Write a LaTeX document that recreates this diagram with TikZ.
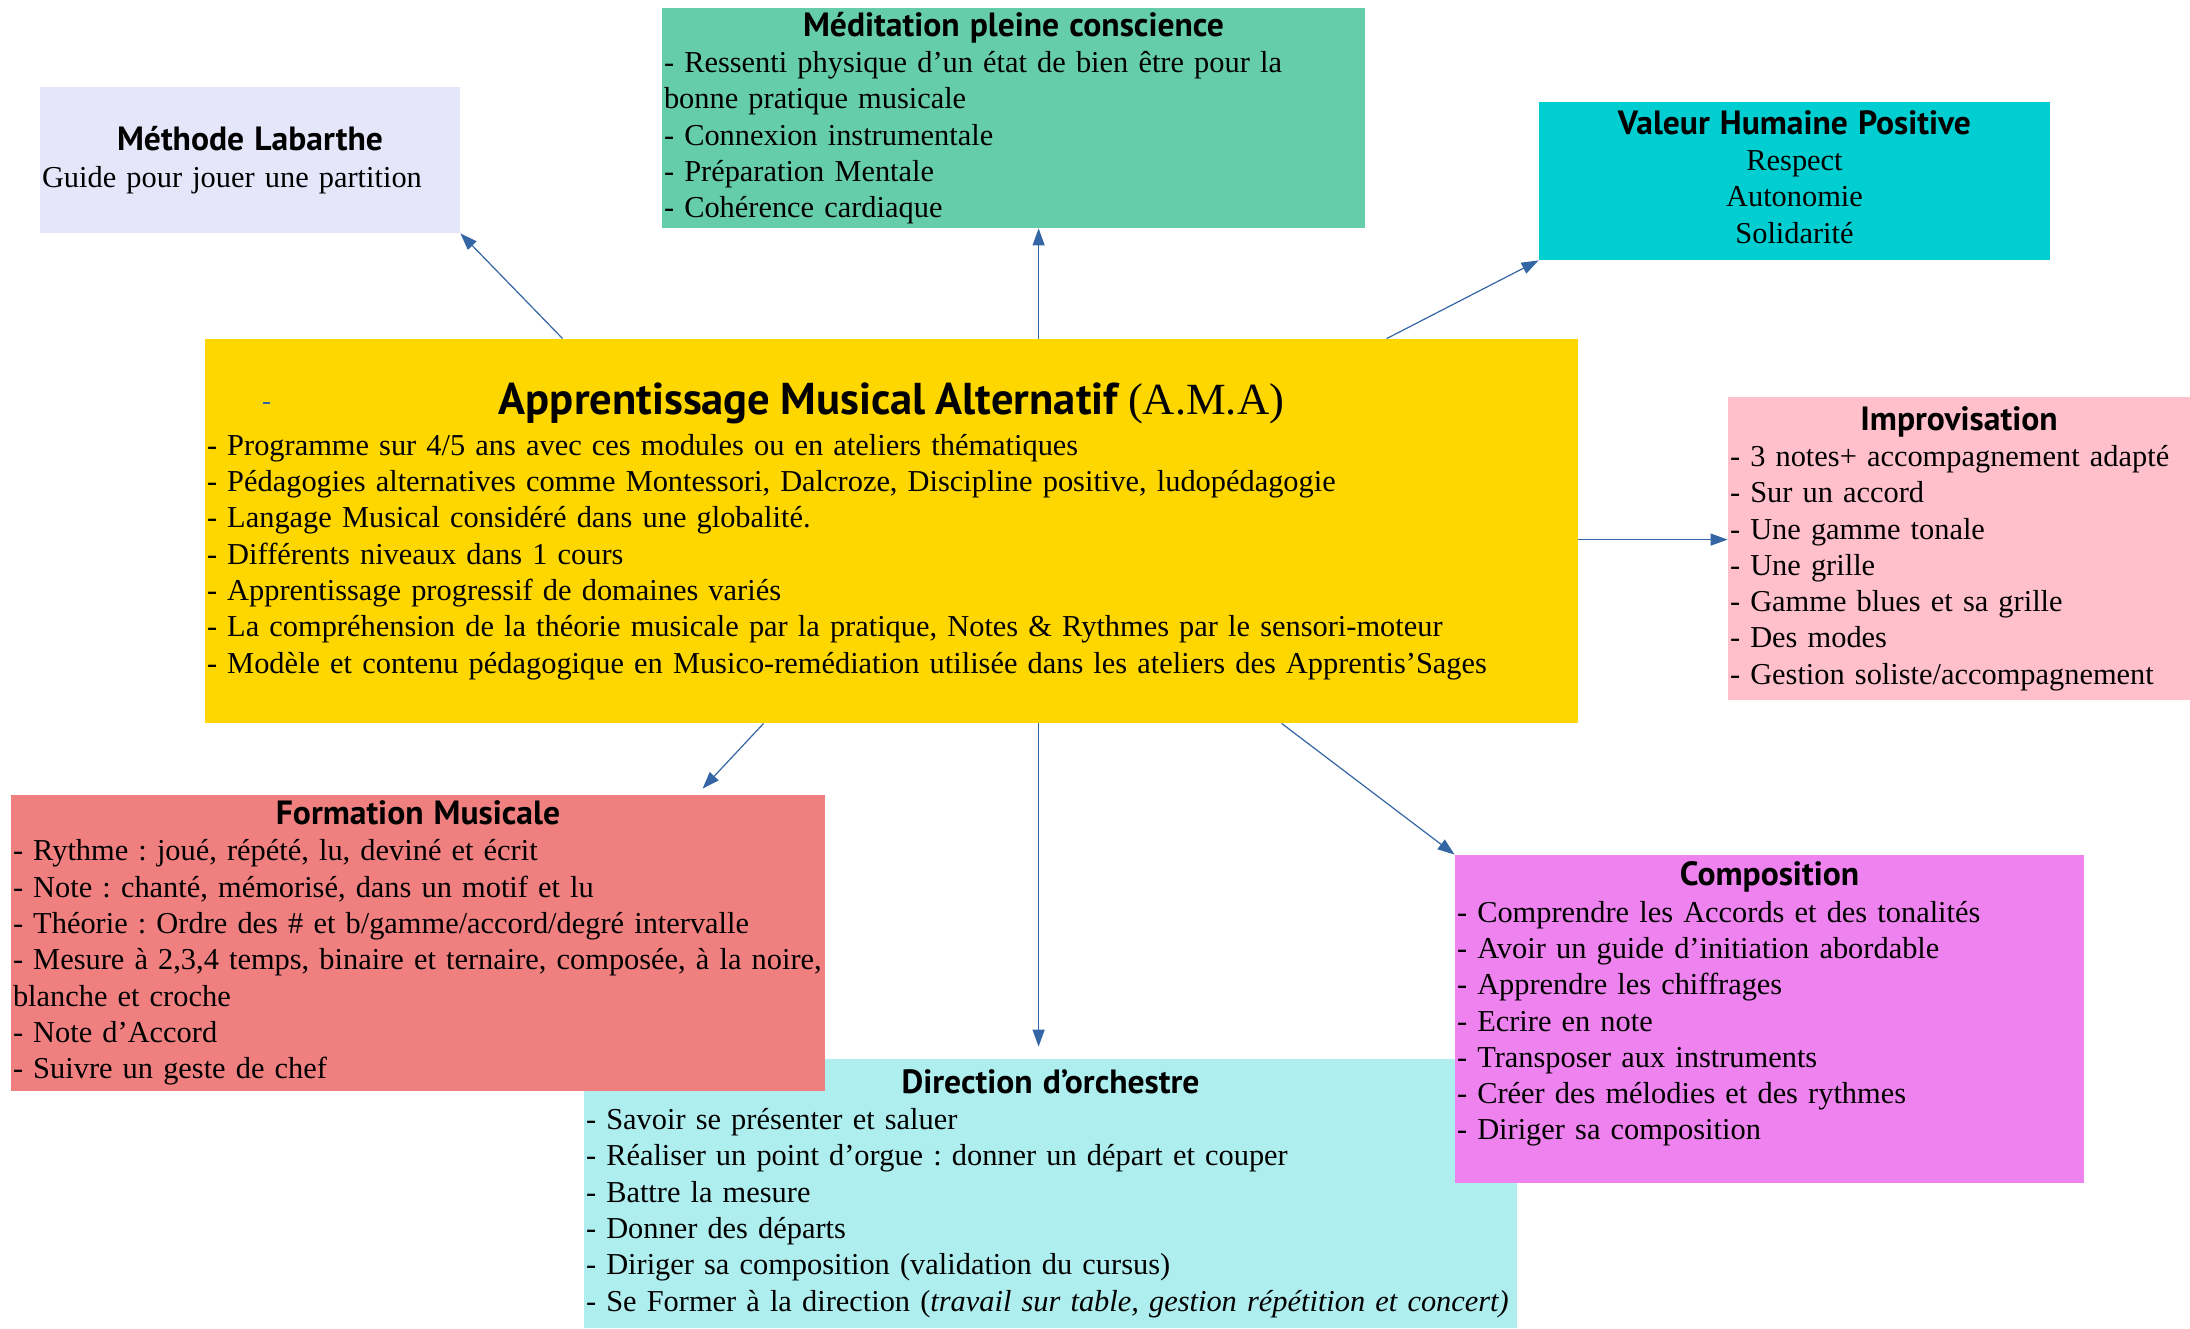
\documentclass[tikz,border=0pt]{standalone}
\usepackage{fontspec}
\setmainfont{Liberation Serif}
\newfontfamily\titlefam{PT Sans}
\usepackage{tikz}
\usetikzlibrary{arrows.meta, positioning, calc}

\definecolor{lavande}{HTML}{E6E6FA}
\definecolor{aquamarine}{HTML}{66CDAA}
\definecolor{turquoise}{HTML}{00CED1}
\definecolor{or}{HTML}{FFD700}
\definecolor{rose}{HTML}{FFC0CB}
\definecolor{corail}{HTML}{F08080}
\definecolor{violette}{HTML}{EE82EE}
\definecolor{turquoisepale}{HTML}{AFEEEE}
\definecolor{lienbleu}{HTML}{3465A4}

\newcommand{\boxtitle}[1]{{\centering\fontsize{16.8}{18.15}\selectfont\titlefam\bfseries #1\par}}

\begin{document}
\begin{tikzpicture}[x=0.5pt, y=-0.5pt,
                module/.style={inner xsep=1pt, inner ysep=0pt, align=left,
                               font=\fontsize{15.2}{18.15}\selectfont\frenchspacing},
                link/.style={-{Triangle[length=8.5pt, width=6pt]}, line width=0.6pt, draw=lienbleu}]

                \useasboundingbox (0,0) rectangle (2190,1328);

                % Central module
                \node[module, fill=or, text width=684.5pt, minimum height=192pt] (ama) at (891.5,531)
                    {{\centering\fontsize{22.3}{22.3}\selectfont{\titlefam\bfseries Apprentissage Musical Alternatif} (A.M.A)\par}
                     \vspace{2.5pt}
                     - Programme sur 4/5 ans avec ces modules ou en ateliers thématiques\\
                     - Pédagogies alternatives comme Montessori, Dalcroze, Discipline positive, ludopédagogie\\
                     - Langage Musical considéré dans une globalité.\\
                     - Différents niveaux dans 1 cours\\
                     - Apprentissage progressif de domaines variés\\
                     - La compréhension de la théorie musicale par la pratique, Notes \& Rythmes par le sensori-moteur\\
                     - Modèle et contenu pédagogique en Musico-remédiation utilisée dans les ateliers des Apprentis’Sages};
                \node[text=lienbleu] (tiret) at (266,403) {\rule{3.5pt}{0.7pt}};

                % Upper modules
                \node[module, fill=lavande, text width=208pt, minimum height=73pt] (methode) at (250,160)
                    {\boxtitle{Méthode Labarthe}Guide pour jouer une partition};
                \node[module, fill=aquamarine, text width=349.5pt, minimum height=110pt] (meditation) at (1013.5,118)
                    {\boxtitle{Méditation pleine conscience}
                     - Ressenti physique d’un état de bien être pour la\\
                     bonne pratique musicale\\
                     - Connexion instrumentale\\
                     - Préparation Mentale\\
                     - Cohérence cardiaque};
                \node[module, align=center, fill=turquoise, text width=253.5pt, minimum height=79pt] (valeur) at (1794.5,181)
                    {\boxtitle{Valeur Humaine Positive}Respect\\Autonomie\\Solidarité\vspace{4pt}};
                \node[module, fill=rose, text width=229pt, minimum height=151.5pt] (impro) at (1959,548.5)
                    {\boxtitle{Improvisation}
                     - 3 notes+ accompagnement adapté\\
                     - Sur un accord\\
                     - Une gamme tonale\\
                     - Une grille\\
                     - Gamme blues et sa grille\\
                     - Des modes\\
                     - Gestion soliste/accompagnement};

                % Lower modules
                \node[module, fill=turquoisepale, text width=464.5pt, minimum height=134.5pt] (direction) at (1050.5,1193.5)
                    {\boxtitle{Direction d’orchestre}
                     - Savoir se présenter et saluer\\
                     - Réaliser un point d’orgue : donner un départ et couper\\
                     - Battre la mesure\\
                     - Donner des départs\\
                     - Diriger sa composition (validation du cursus)\\
                     \mbox{- Se Former à la direction (\textit{travail sur table, gestion répétition et concert)}}};
                \node[module, fill=corail, text width=405pt, minimum height=148pt] (formation) at (418,943)
                    {\boxtitle{Formation Musicale}
                     - Rythme : joué, répété, lu, deviné et écrit\\
                     - Note : chanté, mémorisé, dans un motif et lu\\
                     - Théorie : Ordre des \# et b/gamme/accord/degré intervalle\\
                     \mbox{- Mesure à 2,3,4 temps, binaire et ternaire, composée, à la noire,}\\
                     blanche et croche\\
                     - Note d’Accord\\
                     - Suivre un geste de chef};
                \node[module, fill=violette, text width=312.5pt, minimum height=164pt] (composition) at (1769.5,1019)
                    {\boxtitle{Composition}
                     - Comprendre les Accords et des tonalités\\
                     - Avoir un guide d’initiation abordable\\
                     - Apprendre les chiffrages\\
                     - Ecrire en note\\
                     - Transposer aux instruments\\
                     - Créer des mélodies et des rythmes\\
                     - Diriger sa composition\\
                     \mbox{}};

                % Links
                \draw[link] ($(ama.north west)+(358,0)$) -- (methode.south east);
                \draw[link] ($(ama.north west)+(834,0)$) coordinate (haut) -- (haut |- meditation.south);
                \draw[link] ($(ama.north west)+(1182,0)$) -- (valeur.south west);
                \draw[link] ($(ama.north east)+(0,201)$) coordinate (droite) -- (droite -| impro.west);
                \draw[link] ($(ama.south west)+(559,0)$) -- ($(formation.north west)+(692,-6)$);
                \draw[link, shorten >=6pt] ($(ama.south west)+(834,0)$) coordinate (bas) -- (bas |- direction.north);
                \draw[link] ($(ama.south west)+(1077,0)$) -- (composition.north west);
            \end{tikzpicture}
\end{document}
